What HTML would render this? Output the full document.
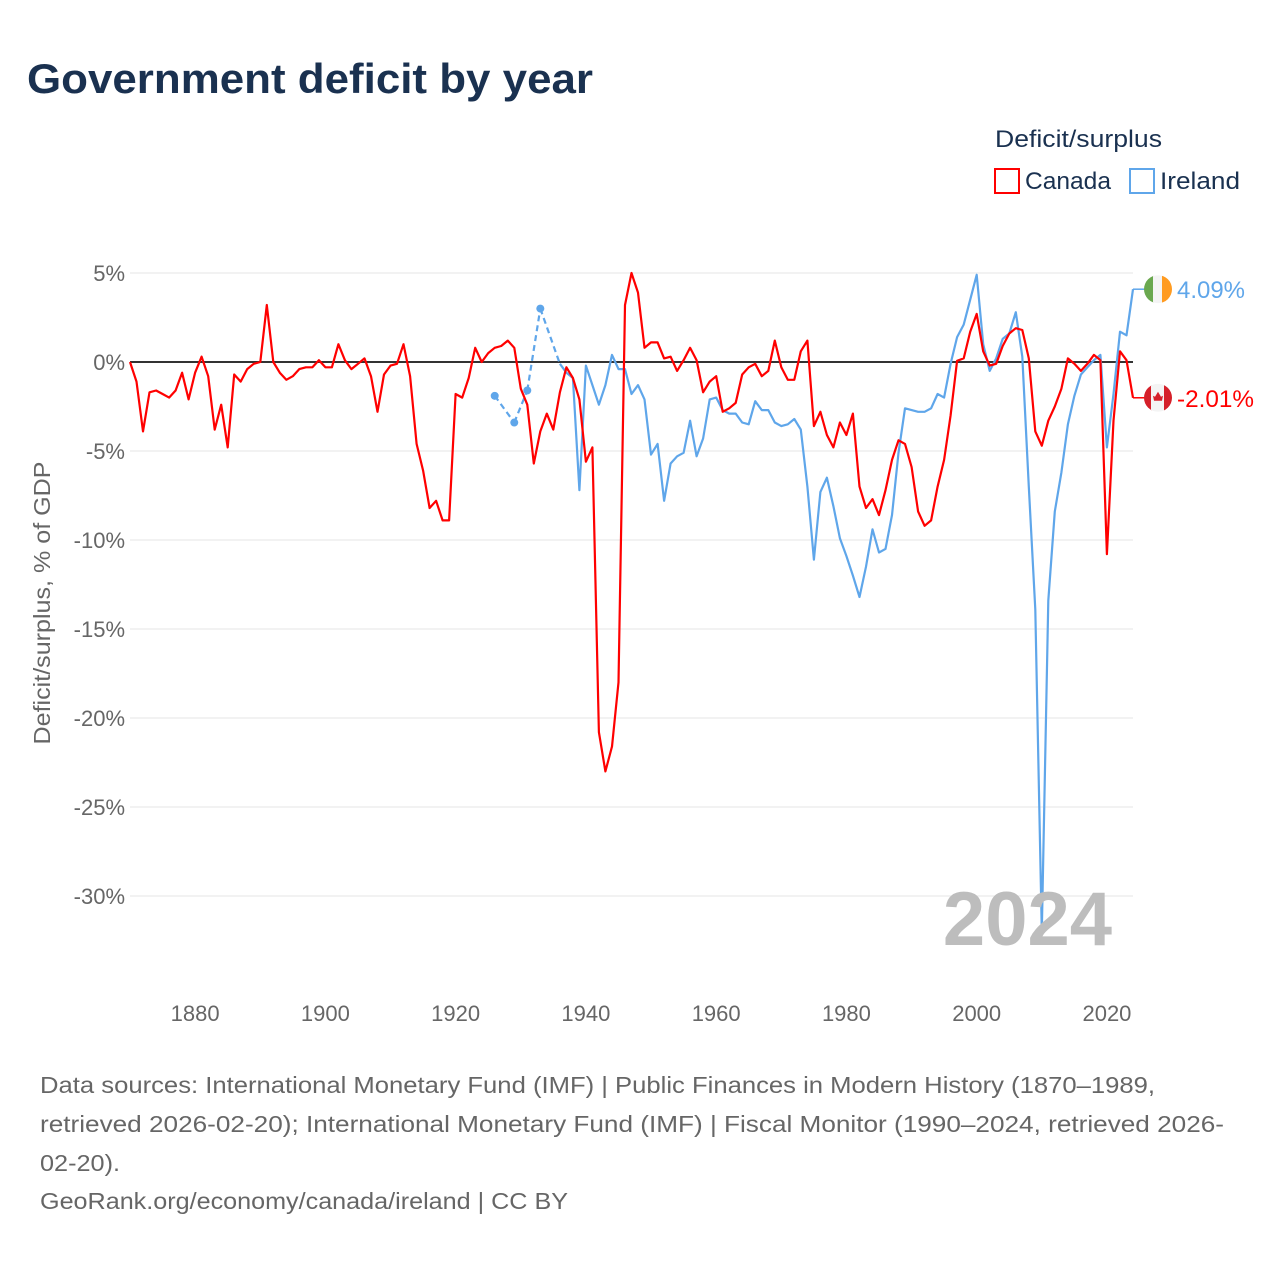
<!DOCTYPE html>
<html><head><meta charset="utf-8"><style>
body{margin:0;background:#fff;font-family:"Liberation Sans",sans-serif;}
svg{display:block}
</style></head><body>
<svg id="chart" width="1280" height="1280" xmlns="http://www.w3.org/2000/svg">
<text x="27" y="93" font-size="42" font-weight="bold" fill="#1a3150" textLength="566" lengthAdjust="spacingAndGlyphs">Government deficit by year</text>
<g>
<text x="995" y="147" font-size="24" fill="#1a3150" textLength="167" lengthAdjust="spacingAndGlyphs">Deficit/surplus</text>
<g><rect x="995" y="169" width="24" height="24" fill="none" stroke="#f00" stroke-width="2"/><text x="1025" y="189" font-size="24" fill="#1a3150" textLength="86" lengthAdjust="spacingAndGlyphs">Canada</text></g>
<g><rect x="1130" y="169" width="24" height="24" fill="none" stroke="#5fa6ea" stroke-width="2"/><text x="1160" y="189" font-size="24" fill="#1a3150" textLength="80" lengthAdjust="spacingAndGlyphs">Ireland</text></g>
</g>
<g id="grid"></g>
<g id="series"></g>
<text x="1112" y="945" text-anchor="end" font-size="76" font-weight="bold" fill="#bdbdbd">2024</text>
<text transform="translate(50,603) rotate(-90)" text-anchor="middle" font-size="23" fill="#666" textLength="283" lengthAdjust="spacingAndGlyphs">Deficit/surplus, % of GDP</text>
<g id="endlabels"></g>
<g font-size="23" fill="#666">
<text x="40" y="1093" textLength="1115" lengthAdjust="spacingAndGlyphs">Data sources: International Monetary Fund (IMF) | Public Finances in Modern History (1870–1989,</text>
<text x="40" y="1132" textLength="1184" lengthAdjust="spacingAndGlyphs">retrieved 2026-02-20); International Monetary Fund (IMF) | Fiscal Monitor (1990–2024, retrieved 2026-</text>
<text x="40" y="1171" textLength="80" lengthAdjust="spacingAndGlyphs">02-20).</text>
<text x="40" y="1209" textLength="528" lengthAdjust="spacingAndGlyphs">GeoRank.org/economy/canada/ireland | CC BY</text>
</g>
</svg>
<script>
const yTicks=[5,0,-5,-10,-15,-20,-25,-30];
const xTicks=[1880,1900,1920,1940,1960,1980,2000,2020];
const canadaStart=1870;
const canadaValues=[0,-1.1,-3.9,-1.7,-1.6,-1.8,-2.0,-1.6,-0.6,-2.1,-0.6,0.3,-0.8,-3.8,-2.4,-4.8,-0.7,-1.1,-0.4,-0.1,
0,3.2,0,-0.6,-1.0,-0.8,-0.4,-0.3,-0.3,0.1,-0.3,-0.3,1.0,0.1,-0.4,-0.1,0.2,-0.8,-2.8,-0.7,
-0.2,-0.1,1.0,-0.8,-4.6,-6.1,-8.2,-7.8,-8.9,-8.9,-1.8,-2.0,-0.9,0.8,0,0.5,0.8,0.9,1.2,0.8,
-1.5,-2.4,-5.7,-3.9,-2.9,-3.8,-1.7,-0.3,-0.9,-2.1,-5.6,-4.8,-20.8,-23.0,-21.6,-18.0,3.2,5.0,3.9,0.8,
1.1,1.1,0.2,0.3,-0.5,0.1,0.8,0.1,-1.7,-1.1,-0.8,-2.8,-2.6,-2.3,-0.7,-0.3,-0.1,-0.8,-0.5,1.2,
-0.3,-1.0,-1.0,0.6,1.2,-3.6,-2.8,-4.1,-4.8,-3.4,-4.1,-2.9,-7.0,-8.2,-7.7,-8.6,-7.2,-5.5,-4.4,-4.6,
-5.9,-8.4,-9.2,-8.9,-7.0,-5.5,-3.0,0.07,0.2,1.7,2.7,0.6,-0.2,-0.1,0.9,1.6,1.9,1.8,0.2,-3.9,
-4.7,-3.3,-2.5,-1.5,0.2,-0.1,-0.5,-0.1,0.4,0.1,-10.8,-3.3,0.6,0.1,-2.01];
const irelandYears=[1926,1929,1931,1933,1936,1937,1938,1939,1940,1941,1942,1943,1944,1945,1946,1947,1948,1949,1950,1951,1952,1953,1954,1955,1956,1957,1958,1959,1960,1961,1962,1963,1964,1965,1966,1967,1968,1969,1970,1971,1972,1973,1974,1975,1976,1977,1978,1979,1980,1981,1982,1983,1984,1985,1986,1987,1988,1989,1990,1991,1992,1993,1994,1995,1996,1997,1998,1999,2000,2001,2002,2003,2004,2005,2006,2007,2008,2009,2010,2011,2012,2013,2014,2015,2016,2017,2018,2019,2020,2021,2022,2023,2024];
const irelandValues=[-1.9,-3.4,-1.6,3.0,-0.1,-0.6,-0.9,-7.2,-0.2,-1.3,-2.4,-1.3,0.4,-0.4,-0.4,-1.8,-1.3,-2.1,-5.2,-4.6,-7.8,-5.7,-5.3,-5.1,-3.3,-5.3,-4.3,-2.1,-2.0,-2.7,-2.9,-2.9,-3.4,-3.5,-2.2,-2.7,-2.7,-3.4,-3.6,-3.5,-3.2,-3.8,-7.0,-11.1,-7.3,-6.5,-8.1,-9.9,-10.9,-12.0,-13.2,-11.5,-9.4,-10.7,-10.5,-8.6,-5.1,-2.6,-2.7,-2.8,-2.8,-2.6,-1.8,-2.0,-0.1,1.4,2.1,3.5,4.9,1.0,-0.5,0.2,1.3,1.6,2.8,0.3,-7.0,-13.9,-32.0,-13.4,-8.4,-6.2,-3.5,-1.9,-0.7,-0.3,0.1,0.4,-4.8,-1.8,1.7,1.5,4.09];
const NS="http://www.w3.org/2000/svg";
const X=y=>130+(y-1870)*(1003/154);
const Y=v=>362-v*17.8;
function mk(t,a,p){const e=document.createElementNS(NS,t);for(const k in a)e.setAttribute(k,a[k]);p.appendChild(e);return e;}
const grid=document.getElementById('grid');
yTicks.forEach(t=>{
  const l=mk('line',{x1:130,x2:1133,y1:Y(t),y2:Y(t),stroke:t===0?'#333':'#e6e6e6','stroke-width':t===0?2:1},grid);
  
  
  const tx=mk('text',{x:125,y:Y(t)+8,'text-anchor':'end','font-size':22,fill:'#666'},grid);
  tx.textContent=t+'%';
  
  
});
xTicks.forEach(t=>{
  const tx=mk('text',{x:X(t),y:1021,'text-anchor':'middle','font-size':22,fill:'#666'},grid);
  tx.textContent=t;
  
  
});
const s=document.getElementById('series');
let solid=[],dashSegs=[],dots=[];
for(let i=0;i<irelandYears.length;i++){
  const y=irelandYears[i],v=irelandValues[i];
  if(i>0&&y-irelandYears[i-1]>1)dashSegs.push([irelandYears[i-1],irelandValues[i-1],y,v]);
  const prevC=i>0&&y-irelandYears[i-1]===1, nextC=i<irelandYears.length-1&&irelandYears[i+1]-y===1;
  if(!prevC&&!nextC)dots.push([y,v]);
  if(y>=1936)solid.push(X(y).toFixed(1)+','+Y(v).toFixed(1));
}
dashSegs.forEach(d=>{
  const l=mk('line',{x1:X(d[0]),y1:Y(d[1]),x2:X(d[2]),y2:Y(d[3]),stroke:'#5fa6ea','stroke-width':2.2,'stroke-dasharray':'6,4'},s);
  
  
});
dots.forEach(d=>{
  const c=mk('circle',{cx:X(d[0]),cy:Y(d[1]),r:4,fill:'#5fa6ea'},s);
  
  
});
const ire=mk('polyline',{points:solid.join(' '),fill:'none',stroke:'#5fa6ea','stroke-width':2.2,'stroke-linejoin':'round'},s);


const cpts=canadaValues.map((v,i)=>X(canadaStart+i).toFixed(1)+','+Y(v).toFixed(1)).join(' ');
const can=mk('polyline',{points:cpts,fill:'none',stroke:'#f00','stroke-width':2.2,'stroke-linejoin':'round'},s);


const el=document.getElementById('endlabels');
const iv=irelandValues[irelandValues.length-1], cv=canadaValues[canadaValues.length-1];
const iy=Y(iv), cy=Y(cv);
mk('line',{x1:1133,x2:1145,y1:iy,y2:iy,stroke:'#5fa6ea','stroke-width':1.5},el);
mk('line',{x1:1133,x2:1145,y1:cy,y2:cy,stroke:'#f00','stroke-width':1.5},el);
const fi=mk('g',{},el);


mk('clipPath',{id:'ci'},fi);
mk('circle',{cx:1158,cy:iy,r:14},fi.firstChild);
const gi=mk('g',{'clip-path':'url(#ci)'},fi);
mk('rect',{x:1144,y:iy-14,width:10,height:28,fill:'#6aa84f'},gi);
mk('rect',{x:1153,y:iy-14,width:10,height:28,fill:'#f4f4f4'},gi);
mk('rect',{x:1162,y:iy-14,width:10,height:28,fill:'#ff9b21'},gi);
const fc=mk('g',{},el);


mk('clipPath',{id:'cc'},fc);
mk('circle',{cx:1158,cy:cy,r:14},fc.firstChild);
const gc=mk('g',{'clip-path':'url(#cc)'},fc);
mk('rect',{x:1144,y:cy-14,width:8,height:28,fill:'#d5202a'},gc);
mk('rect',{x:1151,y:cy-14,width:14,height:28,fill:'#f4f4f4'},gc);
mk('rect',{x:1164,y:cy-14,width:8,height:28,fill:'#d5202a'},gc);
mk('path',{d:`M1158 ${cy-6} l3 5 l2 -1 l-1 5 h-8 l-1 -5 l2 1 z`,fill:'#d5202a'},gc);
const ti=mk('text',{x:1177,y:iy+9,'font-size':24,fill:'#5fa6ea',textLength:68,lengthAdjust:'spacingAndGlyphs'},el);
ti.textContent=iv.toFixed(2)+'%';


const tc=mk('text',{x:1177,y:cy+9,'font-size':24,fill:'#f00',textLength:77,lengthAdjust:'spacingAndGlyphs'},el);
tc.textContent=cv.toFixed(2)+'%';


</script>
</body></html>
